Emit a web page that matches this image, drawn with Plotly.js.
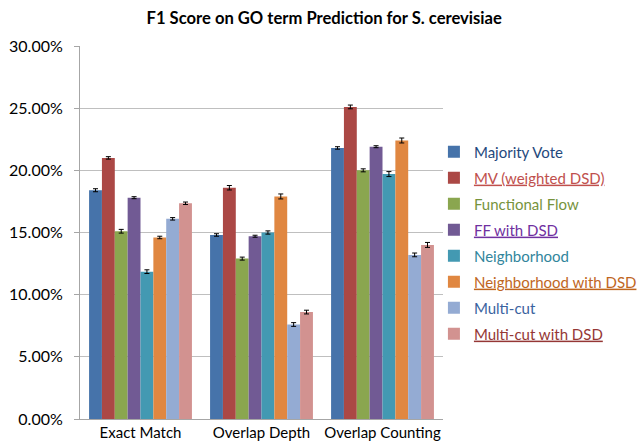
<!DOCTYPE html>
<html><head><meta charset="utf-8">
<script src="https://cdn.plot.ly/plotly-3.0.1.min.js"></script>
<style>html,body{margin:0;padding:0;background:#fff}#c{width:642px;height:448px}</style>
</head><body><div id="c"></div>
<script>
var categories = ["Exact Match", "Overlap Depth", "Overlap Counting"];
var seriesNames = ["Majority Vote", "MV (weighted DSD)", "Functional Flow", "FF with DSD", "Neighborhood", "Neighborhood with DSD", "Multi-cut", "Multi-cut with DSD"];
var majorityVote = [0.184, 0.148, 0.218];
var mvWeighted = [0.210, 0.186, 0.251];
var functionalFlow = [0.151, 0.129, 0.200];
var ffWithDsd = [0.178, 0.147, 0.219];
var neighborhood = [0.1185, 0.150, 0.197];
var neighborhoodDsd = [0.146, 0.179, 0.224];
var multiCut = [0.161, 0.076, 0.132];
var multiCutDsd = [0.1735, 0.086, 0.140];
var errMajorityVote = [0.0012, 0.0010, 0.0010];
var errMvWeighted = [0.0010, 0.0018, 0.0015];
var errFunctionalFlow = [0.0015, 0.0012, 0.0012];
var errFfWithDsd = [0.0008, 0.0008, 0.0008];
var errNeighborhood = [0.0015, 0.0013, 0.0020];
var errNeighborhoodDsd = [0.0010, 0.0020, 0.0020];
var errMultiCut = [0.0010, 0.0015, 0.0015];
var errMultiCutDsd = [0.0010, 0.0015, 0.0020];

var values = [majorityVote, mvWeighted, functionalFlow, ffWithDsd, neighborhood, neighborhoodDsd, multiCut, multiCutDsd];
var errs = [errMajorityVote, errMvWeighted, errFunctionalFlow, errFfWithDsd, errNeighborhood, errNeighborhoodDsd, errMultiCut, errMultiCutDsd];
var barColors = ["#4673AA", "#AB4845", "#8AA64F", "#715A94", "#4399B2", "#E08741", "#94ABD3", "#D29290"];
var textColors = ["#1F497D", "#C0504D", "#77933C", "#7030A0", "#31859C", "#C0661E", "#3A63A0", "#953735"];
var underline = [false, true, false, true, false, true, false, true];

var traces = seriesNames.map(function(n, i){
  var label = underline[i] ? '<u>' + n + '</u>' : n;
  return {
    type: 'bar', x: categories, y: values[i],
    name: '<span style="color:' + textColors[i] + '">' + label + '</span>',
    legendgroup: 'g' + i,
    marker: {color: barColors[i]},
    error_y: {type: 'data', array: errs[i], visible: true, color: '#000', thickness: 1, width: 2.5}
  };
});

var layout = {
  width: 642, height: 448,
  margin: {l: 80, r: 199, t: 46, b: 29, autoexpand: false},
  paper_bgcolor: '#fff', plot_bgcolor: '#fff',
  font: {family: 'Lato, "Open Sans", sans-serif', size: 15, color: '#000'},
  title: {text: '<b>F1 Score on GO term Prediction for S. cerevisiae</b>', x: 0.505, xanchor: 'center', y: 0.96, yanchor: 'middle', font: {size: 16.6, color: '#000'}},
  barmode: 'group', bargap: 0.15, bargroupgap: 0,
  xaxis: {showline: true, linecolor: '#a6a6a6', ticks: '', showgrid: false, tickfont: {size: 15}},
  yaxis: {range: [0, 0.30], dtick: 0.05, tickformat: '.2%', showgrid: true, gridcolor: '#bfbfbf',
          showline: true, linecolor: '#a6a6a6', ticks: 'outside', ticklen: 5, tickcolor: '#a6a6a6',
          ticklabelstandoff: 8, zeroline: false, tickfont: {size: 16}},
  legend: {x: 0.975, xanchor: 'left', y: 0.76, yanchor: 'top', traceorder: 'grouped', tracegroupgap: 3.5,
           font: {size: 15}, itemwidth: 30, bgcolor: 'rgba(0,0,0,0)'},
  showlegend: true
};
Plotly.newPlot('c', traces, layout, {staticPlot: true, displayModeBar: false});
</script>
</body></html>
